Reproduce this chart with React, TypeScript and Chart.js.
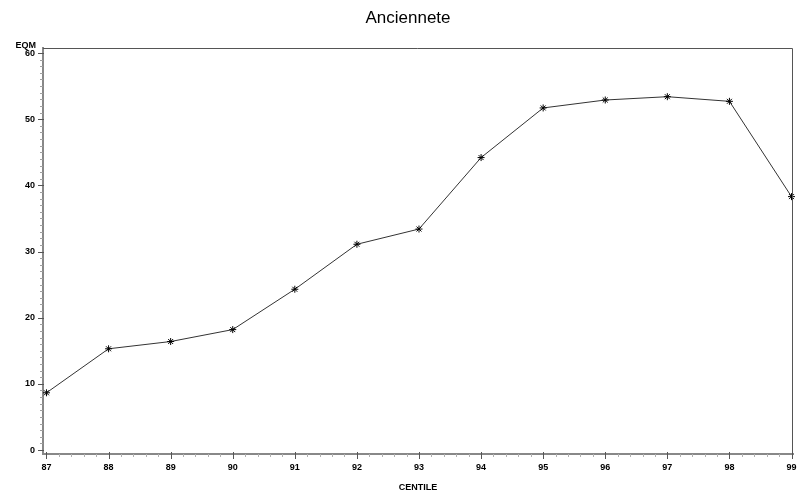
import React, { useEffect, useRef } from 'react';
import { Chart, registerables } from 'chart.js';

Chart.register(...registerables);

// ---- Data ----
const centiles: number[] = [87, 88, 89, 90, 91, 92, 93, 94, 95, 96, 97, 98, 99];
const eqm: number[] = [8.65, 15.3, 16.4, 18.2, 24.3, 31.1, 33.4, 44.2, 51.7, 52.9, 53.4, 52.7, 38.3];

const chartTitle = 'Anciennete';
const xAxisTitle = 'CENTILE';
const yAxisTitle = 'EQM';

const xMin = 86.944;
const xMax = 99.024;
const yMin = -0.6;
const yMax = 60.76;
const xMinorStep = 0.2;
const yMinorStep = 1;
const yMajorStep = 10;

const tickFont = { family: '"Liberation Sans", Arial, sans-serif', size: 9, weight: 'bold' as const };

const isWhole = (v: number, step = 1) => Math.abs(v / step - Math.round(v / step)) < 1e-6;

const decorPlugin = {
  id: 'decor',
  afterDraw(chart: any) {
    const { ctx, chartArea: a, scales } = chart;
    const xs = scales.x;
    const ys = scales.y;
    ctx.save();
    // frame top and right
    ctx.strokeStyle = '#555';
    ctx.lineWidth = 1;
    ctx.beginPath();
    ctx.moveTo(a.left, a.top + 0.5);
    ctx.lineTo(a.right - 0.5, a.top + 0.5);
    ctx.lineTo(a.right - 0.5, a.bottom);
    ctx.stroke();
    // x ticks
    xs.ticks.forEach((t: any) => {
      const px = Math.round(xs.getPixelForValue(t.value)) + 0.5;
      const major = isWhole(t.value);
      ctx.strokeStyle = major ? '#555' : '#b0b0b0';
      ctx.beginPath();
      ctx.moveTo(px, a.bottom - (major ? 2 : 0));
      ctx.lineTo(px, a.bottom + (major ? 5 : 3));
      ctx.stroke();
    });
    // y ticks
    ys.ticks.forEach((t: any) => {
      const py = Math.round(ys.getPixelForValue(t.value)) + 0.5;
      const major = isWhole(t.value, yMajorStep);
      ctx.strokeStyle = major ? '#555' : '#a0a0a0';
      ctx.beginPath();
      ctx.moveTo(a.left + (major ? 1 : 0), py);
      ctx.lineTo(a.left - (major ? 5 : 3), py);
      ctx.stroke();
    });
    // title
    ctx.fillStyle = '#000';
    ctx.font = '17px "Liberation Sans", Arial, sans-serif';
    ctx.textAlign = 'center';
    ctx.textBaseline = 'alphabetic';
    ctx.fillText(chartTitle, chart.width / 2 + 9, 23);
    // y axis title
    ctx.font = 'bold 9px "Liberation Sans", Arial, sans-serif';
    ctx.textAlign = 'right';
    ctx.fillText(yAxisTitle, a.left - 7, a.top);
    ctx.restore();
  },
};

export default function App() {
  const ref = useRef<HTMLCanvasElement | null>(null);

  useEffect(() => {
    if (!ref.current) return;
    const chart = new Chart(ref.current, {
      type: 'line',
      data: {
        datasets: [
          {
            data: centiles.map((c, i) => ({ x: c, y: eqm[i] })),
            borderColor: '#333',
            borderWidth: 1,
            pointStyle: 'star',
            pointRadius: 3.5,
            pointBorderColor: '#000',
            pointBorderWidth: 1,
            pointBackgroundColor: '#000',
            tension: 0,
            fill: false,
            clip: false as any,
          },
        ],
      },
      options: {
        responsive: false,
        animation: false,
        events: [],
        layout: { padding: { top: 48, right: 4, left: 0, bottom: 0 } },
        plugins: {
          legend: { display: false },
          title: { display: false },
          tooltip: { enabled: false },
        },
        scales: {
          x: {
            type: 'linear',
            min: xMin,
            max: xMax,
            grid: { display: false, drawTicks: false },
            border: { display: true, color: '#888', width: 2 },
            ticks: {
              stepSize: xMinorStep,
              includeBounds: false,
              autoSkip: false,
              maxRotation: 0,
              maxTicksLimit: 1000,
              padding: 8,
              color: '#000',
              font: tickFont,
              callback: (v: any) => (isWhole(Number(v)) ? String(Math.round(Number(v))) : ''),
            },
            title: {
              display: true,
              text: xAxisTitle,
              color: '#000',
              font: tickFont,
              padding: { top: 0, bottom: 2 },
            },
            afterFit: (s: any) => {
              s.height = 41;
              s.paddingLeft = 0;
              s.paddingRight = 0;
            },
          },
          y: {
            type: 'linear',
            min: yMin,
            max: yMax,
            grid: { display: false, drawTicks: false },
            border: { display: true, color: '#888', width: 2 },
            ticks: {
              stepSize: yMinorStep,
              includeBounds: false,
              autoSkip: false,
              maxTicksLimit: 1000,
              padding: 8,
              color: '#000',
              font: tickFont,
              callback: (v: any) => (isWhole(Number(v), yMajorStep) ? String(Math.round(Number(v))) : ''),
            },
            afterFit: (s: any) => {
              s.width = 43;
              s.paddingTop = 0;
              s.paddingBottom = 0;
            },
          },
        },
      } as any,
      plugins: [decorPlugin],
    });
    return () => chart.destroy();
  }, []);

  return (
    <div style={{ position: 'absolute', left: 0, top: 0, width: 798, height: 495, background: '#fff' }}>
      <canvas ref={ref} width={798} height={495} style={{ display: 'block' }} />
    </div>
  );
}
